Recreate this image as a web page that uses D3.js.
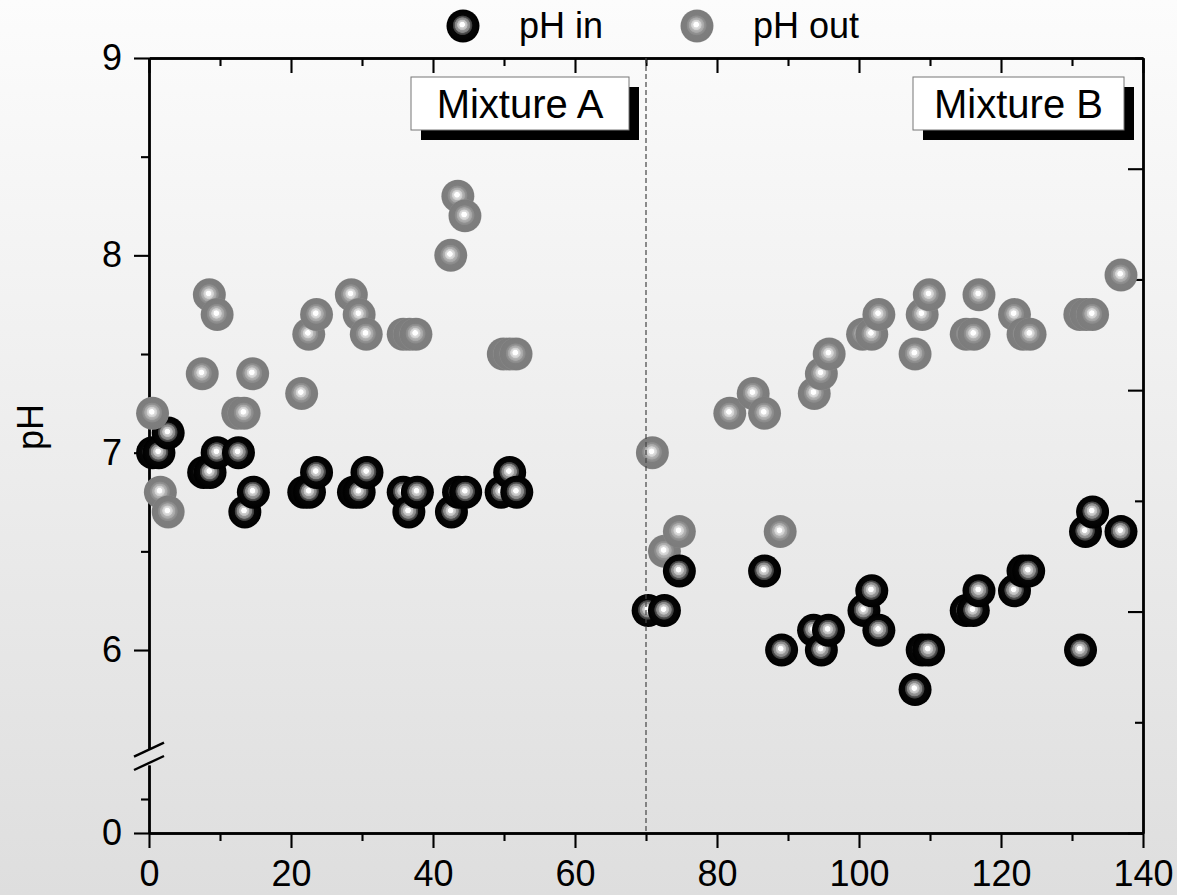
<!DOCTYPE html>
<html>
<head>
<meta charset="utf-8">
<script src="https://cdn.jsdelivr.net/npm/d3@7"></script>
<style>
  html, body { margin: 0; padding: 0; background: #f0f0f0; }
  svg { display: block; }
</style>
</head>
<body>
<svg id="chart" width="1177" height="895"></svg>
<script>
// ---------------- DATA ----------------
const seriesNames = ["pH in", "pH out"];
const mixtureLabels = ["Mixture A", "Mixture B"];
const xTickLabels = [0, 20, 40, 60, 80, 100, 120, 140];
const yTickLabelsUpper = [6, 7, 8, 9];
const yTickLabelsLower = [0];

// Mixture A
const mixA_in_x = [0.5, 1.4, 2.7, 7.7, 8.6, 9.6, 12.6, 13.5, 14.7, 21.8, 22.6, 23.6, 28.8, 29.6, 30.7, 35.8, 36.6, 37.8, 42.6, 43.6, 44.6, 49.6, 50.8, 51.8];
const mixA_in_y = [7.0, 7.0, 7.1, 6.9, 6.9, 7.0, 7.0, 6.7, 6.8, 6.8, 6.8, 6.9, 6.8, 6.8, 6.9, 6.8, 6.7, 6.8, 6.7, 6.8, 6.8, 6.8, 6.9, 6.8];
const mixA_out_x = [0.5, 1.6, 2.7, 7.5, 8.5, 9.6, 12.5, 13.4, 14.6, 21.5, 22.5, 23.6, 28.5, 29.6, 30.6, 35.8, 36.7, 37.6, 42.5, 43.5, 44.5, 49.9, 50.8, 51.7];
const mixA_out_y = [7.2, 6.8, 6.7, 7.4, 7.8, 7.7, 7.2, 7.2, 7.4, 7.3, 7.6, 7.7, 7.8, 7.7, 7.6, 7.6, 7.6, 7.6, 8.0, 8.3, 8.2, 7.5, 7.5, 7.5];

// Mixture B
const mixB_out_x = [70.9, 72.6, 74.7, 81.8, 85.1, 86.7, 88.9, 93.7, 94.7, 95.8, 100.5, 101.8, 102.8, 107.9, 108.9, 109.9, 115.1, 116.2, 116.9, 121.9, 123.1, 124.1, 131.1, 132.0, 132.9, 136.9];
const mixB_out_y = [7.0, 6.5, 6.6, 7.2, 7.3, 7.2, 6.6, 7.3, 7.4, 7.5, 7.6, 7.6, 7.7, 7.5, 7.7, 7.8, 7.6, 7.6, 7.8, 7.7, 7.6, 7.6, 7.7, 7.7, 7.7, 7.9];
const mixB_in_x = [70.3, 72.6, 74.7, 86.7, 89.1, 93.6, 94.7, 95.7, 100.7, 101.8, 102.8, 107.9, 108.9, 109.8, 115.1, 116.1, 116.9, 121.9, 123.1, 123.9, 131.2, 131.9, 132.9, 136.9];
const mixB_in_y = [6.2, 6.2, 6.4, 6.4, 6.0, 6.1, 6.0, 6.1, 6.2, 6.3, 6.1, 5.8, 6.0, 6.0, 6.2, 6.2, 6.3, 6.3, 6.4, 6.4, 6.0, 6.6, 6.7, 6.6];

const boundaryX = 70;

// ---------------- SETUP ----------------
const W = 1177, H = 895;
const FONT = "'Liberation Sans', Arial, Helvetica, sans-serif";
const svg = d3.select("#chart");
const defs = svg.append("defs");

// background gradient
const bg = defs.append("linearGradient").attr("id", "bg").attr("x1", 0).attr("y1", 0).attr("x2", 0).attr("y2", 1);
bg.append("stop").attr("offset", 0).attr("stop-color", "#fcfcfc");
bg.append("stop").attr("offset", 1).attr("stop-color", "#dedede");
svg.append("rect").attr("width", W).attr("height", H).attr("fill", "url(#bg)");

// marker gradients
function ringGradient(id, stops) {
  const g = defs.append("radialGradient").attr("id", id)
    .attr("cx", 0.5).attr("cy", 0.5).attr("r", 0.5).attr("fx", 0.47).attr("fy", 0.45);
  stops.forEach(s => g.append("stop").attr("offset", s[0]).attr("stop-color", s[1]));
}
ringGradient("gIn", [
  [0, "#ffffff"], [0.15, "#ffffff"], [0.18, "#d2d2d2"], [0.30, "#bcbcbc"], [0.33, "#969696"],
  [0.45, "#858585"], [0.48, "#555555"], [0.57, "#3a3a3a"], [0.61, "#060606"], [1, "#000000"]
]);
ringGradient("gOut", [
  [0, "#ffffff"], [0.15, "#ffffff"], [0.18, "#e0e0e0"], [0.30, "#cecece"], [0.33, "#b4b4b4"],
  [0.45, "#a6a6a6"], [0.48, "#939393"], [0.58, "#8a8a8a"], [0.62, "#7e7e7e"], [0.95, "#7c7c7c"], [1, "#888888"]
]);

// ---------------- SCALES ----------------
const x = d3.scaleLinear().domain([0, 140]).range([149, 1143]);
const yUp = d3.scaleLinear().domain([5.5, 9]).range([748.7, 58]);
const yLow = d3.scaleLinear().domain([0, 1]).range([833, 765]);
const yR = d3.scaleLinear().domain([0, 3.5]).range([833, 58]);

const axisColor = "#000";
const AXW = 2.4;

function styleAxis(g, fontSize) {
  g.attr("font-family", FONT).attr("font-size", fontSize);
  g.selectAll("path.domain").attr("stroke", axisColor).attr("stroke-width", AXW);
  g.selectAll(".tick line").attr("stroke", axisColor).attr("stroke-width", AXW - 0.3);
  g.selectAll(".tick text").attr("fill", "#000");
}

// ---------------- AXES ----------------
const xMinor = d3.range(10, 140, 20);
const yMinorUp = [6.5, 7.5, 8.5];

// bottom
const gB = svg.append("g").attr("transform", `translate(0,${yLow(0)})`)
  .call(d3.axisBottom(x).tickValues(xTickLabels).tickSize(15).tickSizeOuter(0).tickPadding(12).tickFormat(d3.format("d")));
styleAxis(gB, 36);
const gBm = svg.append("g").attr("transform", `translate(0,${yLow(0)})`)
  .call(d3.axisBottom(x).tickValues(xMinor).tickSize(8).tickSizeOuter(0).tickFormat(""));
styleAxis(gBm, 36);

// top (inward ticks)
const gT = svg.append("g").attr("transform", `translate(0,${yUp(9)})`)
  .call(d3.axisTop(x).tickValues(xTickLabels).tickSize(-15).tickSizeOuter(0).tickFormat(""));
styleAxis(gT, 36);
const gTm = svg.append("g").attr("transform", `translate(0,${yUp(9)})`)
  .call(d3.axisTop(x).tickValues(xMinor).tickSize(-8).tickSizeOuter(0).tickFormat(""));
styleAxis(gTm, 36);

// left upper
const gL = svg.append("g").attr("transform", `translate(${x(0)},0)`)
  .call(d3.axisLeft(yUp).tickValues(yTickLabelsUpper).tickSize(15).tickSizeOuter(0).tickPadding(12).tickFormat(d3.format("d")));
styleAxis(gL, 36);
const gLm = svg.append("g").attr("transform", `translate(${x(0)},0)`)
  .call(d3.axisLeft(yUp).tickValues(yMinorUp).tickSize(8).tickSizeOuter(0).tickFormat(""));
styleAxis(gLm, 36);

// left lower
const gLL = svg.append("g").attr("transform", `translate(${x(0)},0)`)
  .call(d3.axisLeft(yLow).tickValues(yTickLabelsLower).tickSize(15).tickSizeOuter(0).tickPadding(12).tickFormat(d3.format("d")));
styleAxis(gLL, 36);
const gLLm = svg.append("g").attr("transform", `translate(${x(0)},0)`)
  .call(d3.axisLeft(yLow).tickValues([0.5]).tickSize(8).tickSizeOuter(0).tickFormat(""));
styleAxis(gLLm, 36);

// right (inward ticks, no labels)
const gR = svg.append("g").attr("transform", `translate(${x(140)},0)`)
  .call(d3.axisRight(yR).tickValues([0, 1, 2, 3]).tickSize(-15).tickSizeOuter(0).tickFormat(""));
styleAxis(gR, 36);
const gRm = svg.append("g").attr("transform", `translate(${x(140)},0)`)
  .call(d3.axisRight(yR).tickValues([0.5, 1.5, 2.5, 3.5]).tickSize(-8).tickSizeOuter(0).tickFormat(""));
styleAxis(gRm, 36);

// axis break marks
const bTop = yUp(yUp.domain()[0]) + 1;
const bBot = yLow(yLow.domain()[1]) - 2;
[bTop, bBot].forEach(by => {
  svg.append("line")
    .attr("x1", x(0) - 15).attr("y1", by + 7)
    .attr("x2", x(0) + 15).attr("y2", by - 7)
    .attr("stroke", "#000").attr("stroke-width", 2.4);
});

// y label
svg.append("text")
  .attr("transform", `translate(43,427) rotate(-90)`)
  .attr("text-anchor", "middle")
  .attr("font-family", FONT).attr("font-size", 36)
  .text("pH");

// ---------------- MARKERS ----------------
const R = 16.5;
function drawSeries(xs, ys, grad) {
  const pts = xs.map((v, i) => ({ x: v, y: ys[i] }));
  svg.append("g").selectAll("circle").data(pts).join("circle")
    .attr("cx", d => x(d.x)).attr("cy", d => yUp(d.y)).attr("r", R)
    .attr("fill", `url(#${grad})`);
}
drawSeries(mixA_in_x, mixA_in_y, "gIn");
drawSeries(mixA_out_x, mixA_out_y, "gOut");
drawSeries(mixB_out_x, mixB_out_y, "gOut");
drawSeries(mixB_in_x, mixB_in_y, "gIn");

// dashed boundary line
svg.append("line")
  .attr("x1", x(boundaryX)).attr("x2", x(boundaryX))
  .attr("y1", yUp(9)).attr("y2", yLow(0))
  .attr("stroke", "#444").attr("stroke-width", 1.2).attr("stroke-dasharray", "5,3");

// ---------------- MIXTURE LABEL BOXES ----------------
const boxes = [
  { label: mixtureLabels[0], x0: 411, w: 218 },
  { label: mixtureLabels[1], x0: 913, w: 211 }
];
boxes.forEach(b => {
  const g = svg.append("g");
  g.append("rect").attr("x", b.x0 + 10).attr("y", 87).attr("width", b.w).attr("height", 53).attr("fill", "#000");
  g.append("rect").attr("x", b.x0).attr("y", 77).attr("width", b.w).attr("height", 53)
    .attr("fill", "#fff").attr("stroke", "#777").attr("stroke-width", 1);
  g.append("text").attr("x", b.x0 + b.w / 2).attr("y", 118)
    .attr("text-anchor", "middle").attr("font-family", FONT).attr("font-size", 40)
    .text(b.label);
});

// ---------------- LEGEND ----------------
const legend = [
  { name: seriesNames[0], grad: "gIn", mx: 463, tx: 519 },
  { name: seriesNames[1], grad: "gOut", mx: 697, tx: 753 }
];
legend.forEach(l => {
  svg.append("circle").attr("cx", l.mx).attr("cy", 26).attr("r", R).attr("fill", `url(#${l.grad})`);
  svg.append("text").attr("x", l.tx).attr("y", 38)
    .attr("font-family", FONT).attr("font-size", 36).text(l.name);
});
</script>
</body>
</html>
